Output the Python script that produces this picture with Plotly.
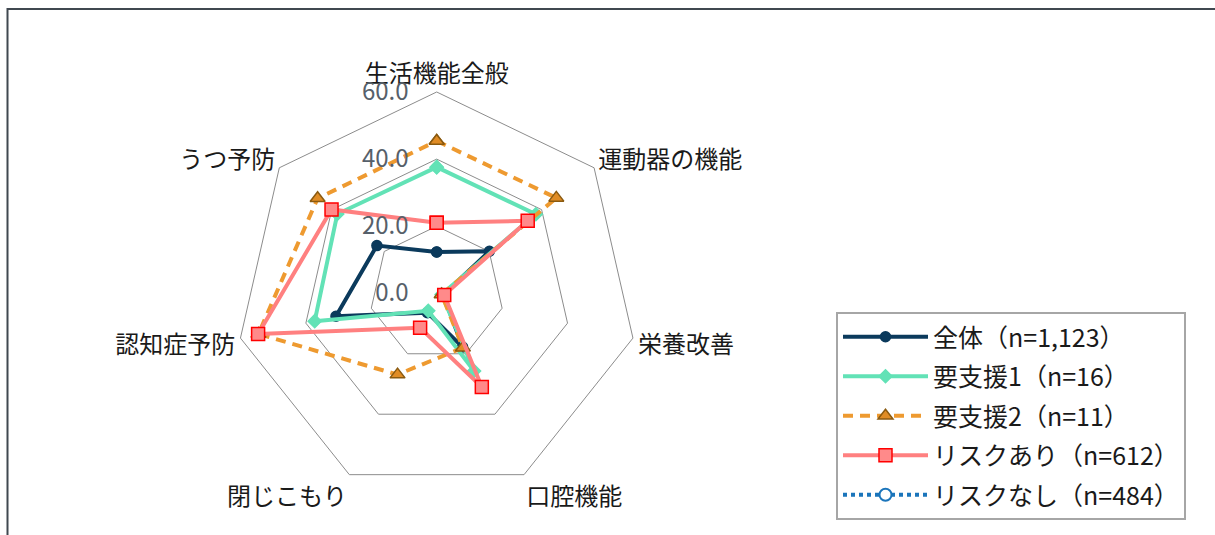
import plotly.graph_objects as go

categories = ["生活機能全般", "運動器の機能", "栄養改善", "口腔機能", "閉じこもり", "認知症予防", "うつ予防"]

series_names = ["全体（n=1,123）", "要支援1（n=16）", "要支援2（n=11）", "リスクあり（n=612）", "リスクなし（n=484）"]
v_all = [12.3, 20.1, 2.0, 17.8, 6.4, 30.8, 22.8]
v_s1 = [37.6, 37.8, 1.5, 25.7, 5.8, 37.3, 37.9]
v_s2 = [45.4, 45.6, 1.5, 18.0, 26.9, 54.5, 45.4]
v_risk = [21.0, 34.7, 2.3, 31.0, 11.4, 54.6, 40.1]
v_norisk = [0.0, 0.0, 0.0, 0.0, 0.0, 0.0, 0.0]

radial_ticks = [0, 20, 40, 60]
radial_ticktext = ["0.0", "20.0", "40.0", "60.0"]

FONT = "Noto Sans CJK JP"
PAD = "\u3000"  # keeps tick labels to the left of the vertical axis

styles = [
    dict(color="#0b3a5c", dash="solid", symbol="circle", msize=10, mcolor="#0b3a5c", mline="#0b3a5c"),
    dict(color="#62e2b6", dash="solid", symbol="diamond", msize=10, mcolor="#62e2b6", mline="#62e2b6"),
    dict(color="#ee9a30", dash="10px,7px", symbol="triangle-up", msize=13, mcolor="#e08c25", mline="#8a5a10"),
    dict(color="#ff8080", dash="solid", symbol="square", msize=13, mcolor="#ff8a8a", mline="#ff0000"),
    dict(color="#1b75bb", dash="dot", symbol="circle-open", msize=12, mcolor="#1b75bb", mline="#1b75bb"),
]
values = [v_all, v_s1, v_s2, v_risk, v_norisk]

fig = go.Figure()
for i, (name, vals, st) in enumerate(zip(series_names, values, styles)):
    marker = dict(symbol=st["symbol"], size=st["msize"], color=st["mcolor"],
                  line=dict(color=st["mline"], width=1.5))
    if st["symbol"] == "circle-open":
        marker = dict(symbol="circle", size=st["msize"], color="white",
                      line=dict(color=st["mline"], width=2))
    fig.add_trace(go.Scatterpolar(
        r=vals + [vals[0]],
        theta=categories + [categories[0]],
        mode="lines+markers",
        name=name,
        legendgroup=f"g{i}",
        line=dict(color=st["color"], width=4, dash=st["dash"]),
        marker=marker,
    ))

W, H = 1215, 535
cx, cy, R = 436.7, 293.3, 201.3
fig.update_layout(
    width=W, height=H,
    margin=dict(l=0, r=0, t=0, b=0),
    paper_bgcolor="white",
    plot_bgcolor="white",
    font=dict(family=FONT, size=20, color="#1a1a1a"),
    polar=dict(
        domain=dict(x=[(cx - R) / W, (cx + R) / W], y=[(H - cy - R) / H, (H - cy + R) / H]),
        bgcolor="white",
        gridshape="linear",
        radialaxis=dict(
            range=[0, 60], tickvals=radial_ticks, ticktext=[t + PAD for t in radial_ticktext],
            angle=90, tickangle=90, side="counterclockwise",
            showline=False, ticks="", gridcolor="#8c8c8c", gridwidth=1,
            tickfont=dict(family=FONT, size=24, color="#56606a"),
        ),
        angularaxis=dict(
            direction="clockwise", rotation=90,
            showgrid=False, showline=True, linecolor="#8c8c8c", linewidth=1,
            ticks="", tickfont=dict(family=FONT, size=24, color="#1a1a1a"),
        ),
    ),
    legend=dict(
        x=836 / W, y=1 - 312 / H, xanchor="left", yanchor="top",
        bordercolor="#a6a6a6", borderwidth=2, bgcolor="white",
        font=dict(family=FONT, size=25, color="#1a1a1a"),
        tracegroupgap=4, traceorder="grouped", itemwidth=85,
    ),
    shapes=[
        dict(type="rect", xref="paper", yref="paper",
             x0=7.5 / W, x1=1.01, y0=-0.02, y1=1 - 9 / H,
             line=dict(color="#404850", width=2), fillcolor="rgba(0,0,0,0)", layer="below"),
    ],
)

fig.write_html("out.html")
